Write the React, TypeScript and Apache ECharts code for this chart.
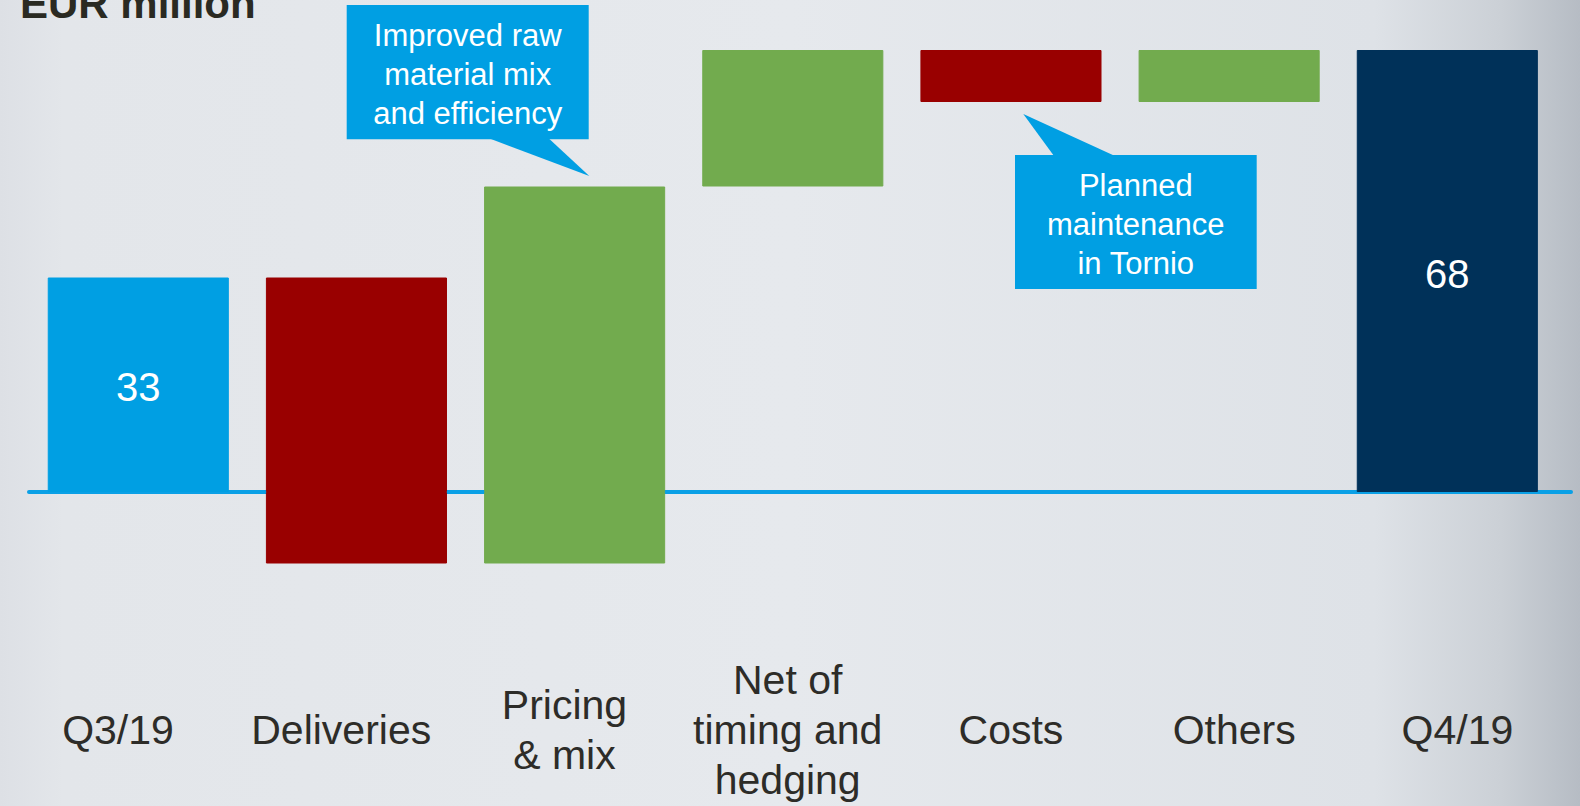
import React, { useEffect, useRef } from "react";
import * as echarts from "echarts";

const categories = [
  "Q3/19",
  "Deliveries",
  "Pricing\n& mix",
  "Net of\ntiming and\nhedging",
  "Costs",
  "Others",
  "Q4/19",
];
const startValue = 33;
const changes = [-44, 58, 21, -8, 8];
const endValue = 68;

const titleText = "EUR million";
const callout1Text = "Improved raw\nmaterial mix\nand efficiency";
const callout2Text = "Planned\nmaintenance\nin Tornio";

const FONT = "Liberation Sans, Arial, Helvetica, sans-serif";
const BLUE = "#009fe3";
const NAVY = "#003159";
const RED = "#990000";
const GREEN = "#72ab4e";

export default function App() {
  const ref = useRef<HTMLDivElement>(null);

  useEffect(() => {
    document.body.style.margin = "0";
    if (!ref.current) return;
    const chart = echarts.init(ref.current, undefined, { renderer: "svg" });

    const ranges: { lo: number; hi: number; color: string; total: boolean }[] = [];
    ranges.push({ lo: 0, hi: startValue, color: BLUE, total: true });
    let run = startValue;
    changes.forEach((d) => {
      const next = run + d;
      ranges.push({
        lo: Math.min(run, next),
        hi: Math.max(run, next),
        color: d >= 0 ? GREEN : RED,
        total: false,
      });
      run = next;
    });
    ranges.push({ lo: 0, hi: endValue, color: NAVY, total: true });

    const baseData = ranges.map((r) =>
      r.lo >= 0 ? r.lo : r.hi <= 0 ? r.hi : 0
    );
    const posData = ranges.map((r) => {
      const v = r.lo >= 0 ? r.hi - r.lo : r.hi > 0 ? r.hi : 0;
      return {
        value: v === 0 ? "-" : v,
        itemStyle: { color: r.color, borderColor: r.color, borderWidth: 1 },
        label: {
          show: r.total,
          formatter: String(r.hi),
        },
      };
    });
    const negData = ranges.map((r) => {
      const v = r.hi <= 0 ? r.lo - r.hi : r.lo < 0 ? r.lo : 0;
      return {
        value: v === 0 ? "-" : v,
        itemStyle: { color: r.color, borderColor: r.color, borderWidth: 1 },
      };
    });

    const barCommon = {
      type: "bar",
      stack: "wf",
      xAxisIndex: 0,
      yAxisIndex: 0,
      barWidth: "83%",
      z: 2,
    };

    chart.setOption({
      animation: false,
      backgroundColor: {
        type: "linear",
        x: 0,
        y: 0,
        x2: 1,
        y2: 0,
        colorStops: [
          { offset: 0, color: "#dde0e5" },
          { offset: 0.04, color: "#e3e6ea" },
          { offset: 0.5, color: "#e6e9ed" },
          { offset: 0.87, color: "#dee2e7" },
          { offset: 0.95, color: "#cbd0d6" },
          { offset: 1, color: "#b6bcc4" },
        ],
      },
      grid: [
        { left: 29.2, right: 23.6, top: 37, bottom: 184 },
        { left: 6.4, right: 11, top: 600, bottom: 76 },
        { left: 29, right: 9, top: 37, bottom: 184 },
      ],
      xAxis: [
        {
          gridIndex: 0,
          type: "category",
          data: categories,
          axisLine: { show: false },
          axisTick: { show: false },
          axisLabel: { show: false },
          splitLine: { show: false },
        },
        {
          gridIndex: 1,
          type: "category",
          data: categories,
          axisLine: { show: false },
          axisTick: { show: false },
          splitLine: { show: false },
          axisLabel: {
            interval: 0,
            margin: 0,
            verticalAlign: "middle",
            fontSize: 41,
            lineHeight: 50,
            color: "#2d2c28",
            fontFamily: FONT,
          },
        },
        {
          gridIndex: 2,
          type: "value",
          min: 0,
          max: 1,
          axisLine: {
            show: true,
            onZero: true,
            lineStyle: { color: "#0aa0e6", width: 4 },
          },
          axisTick: { show: false },
          axisLabel: { show: false },
          splitLine: { show: false },
        },
      ],
      yAxis: [
        { gridIndex: 0, type: "value", min: -20, max: 70, show: false },
        { gridIndex: 1, type: "value", show: false },
        { gridIndex: 2, type: "value", min: -20, max: 70, show: false },
      ],
      series: [
        {
          ...barCommon,
          name: "base",
          data: baseData,
          itemStyle: { color: "transparent" },
          silent: true,
        },
        {
          ...barCommon,
          name: "up",
          data: posData,
          label: {
            position: "inside",
            offset: [0, 2.5],
            color: "#ffffff",
            fontSize: 40,
            fontFamily: FONT,
          },
        },
        {
          ...barCommon,
          name: "down",
          data: negData,
        },
      ],
      graphic: [
        {
          type: "text",
          x: 20,
          y: 3,
          z: 10,
          style: {
            text: titleText,
            fill: "#2a2a22",
            fontSize: 42,
            fontWeight: "bold",
            fontFamily: FONT,
            align: "left",
            verticalAlign: "middle",
          },
        },
        {
          type: "group",
          z: 10,
          children: [
            {
              type: "polygon",
              shape: {
                points: [
                  [488.3, 138],
                  [548.3, 138],
                  [589.3, 176],
                ],
              },
              style: { fill: BLUE },
            },
            {
              type: "rect",
              shape: { x: 346.7, y: 5, width: 242, height: 134.3 },
              style: { fill: BLUE },
            },
            {
              type: "text",
              x: 467.7,
              y: 74,
              style: {
                text: callout1Text,
                fill: "#ffffff",
                fontSize: 31,
                lineHeight: 39,
                fontFamily: FONT,
                align: "center",
                verticalAlign: "middle",
              },
            },
          ],
        },
        {
          type: "group",
          z: 10,
          children: [
            {
              type: "polygon",
              shape: {
                points: [
                  [1054, 156],
                  [1115, 156],
                  [1023.3, 114],
                ],
              },
              style: { fill: BLUE },
            },
            {
              type: "rect",
              shape: { x: 1015, y: 155, width: 241.7, height: 134 },
              style: { fill: BLUE },
            },
            {
              type: "text",
              x: 1135.8,
              y: 224,
              style: {
                text: callout2Text,
                fill: "#ffffff",
                fontSize: 31,
                lineHeight: 39,
                fontFamily: FONT,
                align: "center",
                verticalAlign: "middle",
              },
            },
          ],
        },
      ],
    });

    return () => {
      chart.dispose();
    };
  }, []);

  return (
    <div
      ref={ref}
      style={{ position: "absolute", left: 0, top: 0, width: 1580, height: 806 }}
    />
  );
}
